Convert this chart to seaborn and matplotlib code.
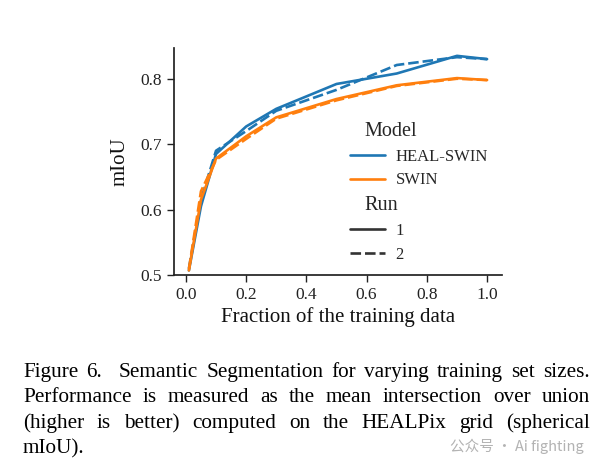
import numpy as np
import pandas as pd
import matplotlib
matplotlib.use('Agg')
import matplotlib.pyplot as plt
import seaborn as sns

# Values
fraction = [0.01, 0.05, 0.1, 0.2, 0.3, 0.5, 0.7, 0.9, 1.0]
heal_swin_run1 = [0.507, 0.605, 0.685, 0.727, 0.754, 0.792, 0.808, 0.835, 0.830]
heal_swin_run2 = [0.510, 0.615, 0.690, 0.720, 0.751, 0.783, 0.821, 0.833, 0.830]
swin_run1 = [0.507, 0.615, 0.678, 0.712, 0.741, 0.769, 0.790, 0.801, 0.798]
swin_run2 = [0.509, 0.628, 0.676, 0.708, 0.739, 0.767, 0.789, 0.800, 0.798]
models = ['HEAL-SWIN', 'SWIN']
runs = ['1', '2']
x_ticks = [0.0, 0.2, 0.4, 0.6, 0.8, 1.0]
y_ticks = [0.5, 0.6, 0.7, 0.8]

caption_lines = [
    "Figure 6.  Semantic Segmentation for varying training set sizes.",
    "Performance is measured as the mean intersection over union",
    "(higher is better) computed on the HEALPix grid (spherical",
    "mIoU).",
]
watermark = "公众号 · Ai fighting"

# Build long-form table
series = {('HEAL-SWIN', '1'): heal_swin_run1, ('HEAL-SWIN', '2'): heal_swin_run2,
          ('SWIN', '1'): swin_run1, ('SWIN', '2'): swin_run2}
rows = []
for (model, run), vals in series.items():
    for f, v in zip(fraction, vals):
        rows.append({'fraction': f, 'mIoU': v, 'Model': model, 'Run': run})
df = pd.DataFrame(rows)

sns.set_theme(style='ticks')
plt.rcParams['font.family'] = ['Liberation Serif', 'DejaVu Serif']
plt.rcParams['axes.edgecolor'] = '#222222'
plt.rcParams['xtick.color'] = '#222222'
plt.rcParams['ytick.color'] = '#222222'

W, H = 597, 470
fig = plt.figure(figsize=(W / 100, H / 100), dpi=100)
ax = fig.add_axes([174 / W, 1 - 275 / H, (502 - 174) / W, (275 - 48) / H])

sns.lineplot(data=df, x='fraction', y='mIoU', hue='Model', style='Run',
             hue_order=models, style_order=runs,
             palette=['#1f77b4', '#ff7f0e'], linewidth=1.9, ax=ax)

ax.set_xlim(-0.0395, 1.0495)
ax.set_ylim(0.5, 0.847)
ax.set_xticks(x_ticks)
ax.set_yticks(y_ticks)
ax.tick_params(labelsize=12.5, length=5, width=1, labelcolor='#222222')
ax.set_xlabel('Fraction of the training data', fontsize=15, color='#111111', labelpad=3)
ax.set_ylabel('mIoU', fontsize=15, color='#111111', labelpad=8)
sns.despine(ax=ax)

sns.move_legend(ax, loc='upper left', bbox_to_anchor=(0.51, 0.712),
                frameon=False, fontsize=12, title=None, borderpad=0,
                handlelength=2.1, handletextpad=0.65, labelspacing=0.47)
leg = ax.get_legend()
for col in leg._legend_handle_box.get_children():
    for row in col.get_children():
        handle_area, text_area = row.get_children()
        txt = text_area._text
        if txt.get_text() in ('Model', 'Run'):
            txt.set_fontsize(14.5)
            row.sep = 0
            handle_area.width = 10.8

# Caption, justified like the paper text (a double space counts twice)
renderer = fig.canvas.get_renderer()
left_px, right_px = 23, 590
baselines = [377, 402, 428, 453]
cap_size = 15.3
for i, (line, base) in enumerate(zip(caption_lines, baselines)):
    tokens = line.split(' ')
    words = [w for w in tokens if w]
    n_spaces = len(tokens) - 1
    texts = [fig.text(0, 1 - base / H, w, fontsize=cap_size, va='baseline',
                      ha='left', color='black') for w in words]
    widths = [t.get_window_extent(renderer).width for t in texts]
    if i < len(caption_lines) - 1 and n_spaces > 0:
        gap = (right_px - left_px - sum(widths)) / n_spaces
    else:
        gap = cap_size * 100 / 72 * 0.25
    x = left_px
    k = 0
    for tok in tokens:
        if tok:
            texts[k].set_x(x / W)
            x += widths[k]
            k += 1
        x += gap

fig.text(450 / W, 1 - 446 / H, watermark, fontsize=10.5, color='#b3b3b3',
         va='center', ha='left', family=['Noto Sans CJK SC', 'DejaVu Sans'])

fig.savefig('out.png', dpi=100)
